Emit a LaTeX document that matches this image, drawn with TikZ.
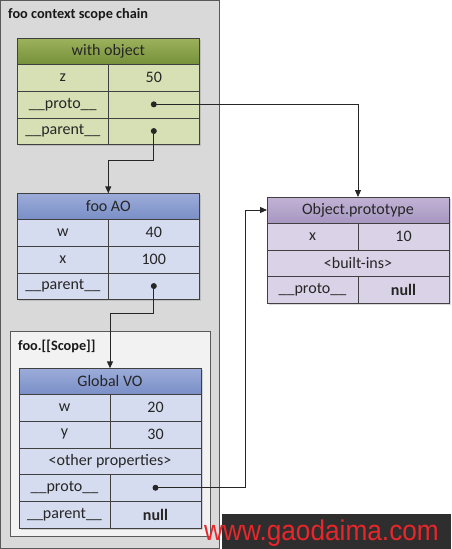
\documentclass[tikz,border=0pt]{standalone}
\usepackage{fontspec}
\setmainfont{Carlito}
\newfontfamily\markfont[FakeStretch=0.92]{Liberation Sans}
\usepackage{tikz}
\usetikzlibrary{positioning,shadows,arrows.meta}

\definecolor{chainbg}{HTML}{D9D9D9}
\definecolor{scopebg}{HTML}{F2F2F2}
\definecolor{wotop}{HTML}{9DB15C}
\definecolor{wobot}{HTML}{76903A}
\definecolor{wocell}{HTML}{D7E0B5}
\definecolor{aotop}{HTML}{9CACDA}
\definecolor{aobot}{HTML}{7A8FC6}
\definecolor{aocell}{HTML}{D6DCEF}
\definecolor{optop}{HTML}{C2B3D5}
\definecolor{opbot}{HTML}{A797C1}
\definecolor{opcell}{HTML}{DAD2E6}
\definecolor{markbg}{HTML}{2E2E2E}
\definecolor{markred}{HTML}{E8262B}

\begin{document}
\begin{tikzpicture}[x=1pt, y=-1pt, node distance=0pt,
cell/.style={draw=black!75, inner sep=0pt, outer sep=0pt, minimum height=26.7pt,
  text=black!85, font=\fontsize{16}{18}\selectfont,
  drop shadow={shadow xshift=2pt, shadow yshift=-2pt, opacity=.3}},
half/.style={cell, minimum width=91pt},
full/.style={cell, minimum width=182pt},
head/.style={full, minimum height=26pt, top color=#1top, bottom color=#1bot},
frame/.style={draw=black!65, inner sep=0pt, outer sep=0pt},
title/.style={inner sep=0pt, font=\bfseries\fontsize{14.3}{16}\selectfont, text=black!90},
link/.style={draw=black!85, line width=1pt, -{Triangle[length=7pt, width=6pt]}},
dot/.style={fill=black!85}]
\useasboundingbox (0,0) rectangle (451,549);

% frames
\node[frame, fill=chainbg, minimum width=218.5pt, minimum height=547.5pt, anchor=north west] (chain) at (0.5,0.5) {};
\node[title, anchor=west] (chain-t) at (8,15) {foo context scope chain};
\node[frame, fill=scopebg, minimum width=200pt, minimum height=204.5pt, anchor=north west] (scope) at (10.5,331.5) {};
\node[title, anchor=west] (scope-t) at (18,346) {foo.[[Scope]]};

% with object
\node[head=wo, anchor=north west] (wo) at (17.3,38.3) {with object};
\node[half, fill=wocell, below right=of wo.south west] (wo-zk) {z};
\node[half, fill=wocell, right=of wo-zk] (wo-zv) {50};
\node[half, fill=wocell, below=of wo-zk] (wo-pk) {\_\_proto\_\_};
\node[half, fill=wocell, right=of wo-pk] (wo-pv) {};
\node[half, fill=wocell, below=of wo-pk] (wo-rk) {\_\_parent\_\_};
\node[half, fill=wocell, right=of wo-rk] (wo-rv) {};

% foo AO
\node[head=ao, anchor=north west] (ao) at (17.3,193.3) {foo AO};
\node[half, fill=aocell, below right=of ao.south west] (ao-wk) {w};
\node[half, fill=aocell, right=of ao-wk] (ao-wv) {40};
\node[half, fill=aocell, below=of ao-wk] (ao-xk) {x};
\node[half, fill=aocell, right=of ao-xk] (ao-xv) {100};
\node[half, fill=aocell, below=of ao-xk] (ao-rk) {\_\_parent\_\_};
\node[half, fill=aocell, right=of ao-rk] (ao-rv) {};

% Global VO
\node[head=ao, anchor=north west] (gvo) at (19,368.3) {Global VO};
\node[half, fill=aocell, below right=of gvo.south west] (gvo-wk) {w};
\node[half, fill=aocell, right=of gvo-wk] (gvo-wv) {20};
\node[half, fill=aocell, below=of gvo-wk] (gvo-yk) {y};
\node[half, fill=aocell, right=of gvo-yk] (gvo-yv) {30};
\node[full, fill=aocell, below right=of gvo-yk.south west] (gvo-o) {<other properties>};
\node[half, fill=aocell, below right=of gvo-o.south west] (gvo-pk) {\_\_proto\_\_};
\node[half, fill=aocell, right=of gvo-pk] (gvo-pv) {};
\node[half, fill=aocell, below=of gvo-pk] (gvo-rk) {\_\_parent\_\_};
\node[half, fill=aocell, right=of gvo-rk] (gvo-rv) {\textbf{null}};

% Object.prototype
\node[head=op, anchor=north west] (op) at (267,197) {Object.prototype};
\node[half, fill=opcell, below right=of op.south west] (op-xk) {x};
\node[half, fill=opcell, right=of op-xk] (op-xv) {10};
\node[full, fill=opcell, below right=of op-xk.south west] (op-b) {<built-ins>};
\node[half, fill=opcell, below right=of op-b.south west] (op-pk) {\_\_proto\_\_};
\node[half, fill=opcell, right=of op-pk] (op-pv) {\textbf{null}};

% links
\fill[dot] (wo-pv.center) circle (3pt) (wo-rv.center) circle (3pt)
  (ao-rv.center) circle (3pt) (gvo-pv.center) circle (3pt);
\draw[link] (wo-pv.center) -| (op.north);
\draw[link] (wo-rv.center) -- ++(0,29.5) -| (ao.north);
\draw[link] (ao-rv.center) -- ++(0,27.5) -| (gvo.north);
\draw[link] (gvo-pv.center) -- ++(89.5,0) |- (op.west);

% watermark
\node[fill=markbg, inner sep=0pt, minimum width=229pt, minimum height=35pt, anchor=south east] (mark) at (451,549) {};
\node[inner sep=0pt, text=markred, font=\markfont\fontsize{28.5}{30}\selectfont, anchor=base west] (mark-t) at (204,540.5) {www.gaodaima.com};
\end{tikzpicture}
\end{document}
